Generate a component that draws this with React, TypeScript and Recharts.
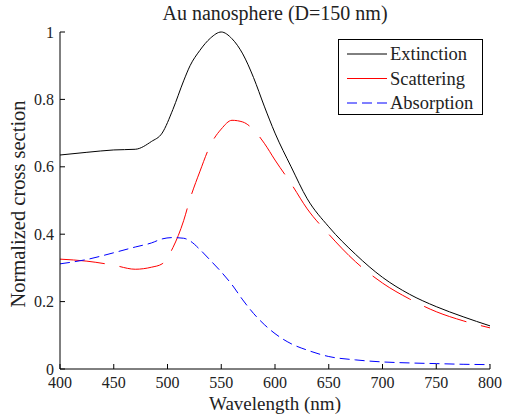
import React from 'react';
import { LineChart, Line, XAxis, YAxis } from 'recharts';

const wavelengths = [400, 425, 450, 470, 485, 495, 505, 515, 521, 530, 540, 550, 560, 570, 580, 590, 600, 615, 630, 650, 675, 700, 725, 750, 775, 800];
const extinction = [0.635, 0.643, 0.65, 0.652, 0.675, 0.7, 0.77, 0.855, 0.9, 0.945, 0.982, 1.0, 0.98, 0.935, 0.865, 0.78, 0.7, 0.6, 0.505, 0.422, 0.34, 0.272, 0.222, 0.185, 0.155, 0.128];
const scattering = [0.326, 0.32, 0.308, 0.296, 0.302, 0.312, 0.36, 0.44, 0.505, 0.585, 0.665, 0.712, 0.738, 0.733, 0.71, 0.67, 0.62, 0.55, 0.475, 0.4, 0.318, 0.255, 0.208, 0.17, 0.143, 0.122];
const absorption = [0.312, 0.325, 0.345, 0.362, 0.374, 0.386, 0.39, 0.388, 0.38, 0.355, 0.322, 0.288, 0.25, 0.205, 0.165, 0.132, 0.105, 0.075, 0.056, 0.037, 0.027, 0.021, 0.018, 0.016, 0.014, 0.013];

const xTicks = [400, 450, 500, 550, 600, 650, 700, 750, 800];
const yTicks = [0, 0.2, 0.4, 0.6, 0.8, 1];
const yTickLabels = ['0', '0.2', '0.4', '0.6', '0.8', '1'];
const seriesNames = ['Extinction', 'Scattering', 'Absorption'];
const titleText = 'Au nanosphere (D=150 nm)';
const xLabel = 'Wavelength (nm)';
const yLabel = 'Normalized cross section';

const data = wavelengths.map((w, i) => ({
  w,
  ext: extinction[i],
  sca: scattering[i],
  abs: absorption[i],
}));

const FONT = "'Liberation Serif', 'DejaVu Serif', 'Times New Roman', serif";
const TEXT = '#222';
const fontStyle = { fontFamily: FONT };

const BottomTick = (props: any) => {
  const { x, y, payload } = props;
  return (
    <g>
      <line x1={x} y1={y} x2={x} y2={y - 5} stroke="#000" />
      <text x={x} y={y + 19} textAnchor="middle" fontSize={16} style={fontStyle} fill={TEXT}>
        {payload.value}
      </text>
    </g>
  );
};

const TopTick = (props: any) => {
  const { x, y } = props;
  return <line x1={x} y1={y} x2={x} y2={y + 5} stroke="#000" />;
};

const LeftTick = (props: any) => {
  const { x, y, payload } = props;
  const idx = yTicks.indexOf(payload.value);
  return (
    <g>
      <line x1={x} y1={y} x2={x + 5} y2={y} stroke="#000" />
      <text x={x - 6} y={y} dy="0.35em" textAnchor="end" fontSize={16} style={fontStyle} fill={TEXT}>
        {idx >= 0 ? yTickLabels[idx] : payload.value}
      </text>
    </g>
  );
};

const RightTick = (props: any) => {
  const { x, y } = props;
  return <line x1={x} y1={y} x2={x - 5} y2={y} stroke="#000" />;
};

const legendItems = [
  { name: seriesNames[0], color: '#000000', dash: undefined as string | undefined },
  { name: seriesNames[1], color: '#ff0000', dash: undefined as string | undefined },
  { name: seriesNames[2], color: '#0000ff', dash: '10 5' },
];

export default function App() {
  return (
    <div style={{ position: 'absolute', left: 0, top: 0, width: 505, height: 419, background: '#fff', fontFamily: FONT }}>
      <LineChart width={505} height={419} data={data} margin={{ top: 32, right: 15, bottom: 0, left: 0 }}>
        <XAxis
          xAxisId="bottom"
          dataKey="w"
          type="number"
          domain={[400, 800]}
          ticks={xTicks}
          height={50}
          tickSize={0}
          tickMargin={0}
          tickLine={false}
          tick={BottomTick}
          axisLine={{ stroke: '#000' }}
          interval={0}
        />
        <XAxis
          xAxisId="top"
          orientation="top"
          dataKey="w"
          type="number"
          domain={[400, 800]}
          ticks={xTicks}
          height={0}
          tickSize={0}
          tickMargin={0}
          tickLine={false}
          tick={TopTick}
          axisLine={{ stroke: '#000' }}
          interval={0}
        />
        <YAxis
          yAxisId="left"
          type="number"
          domain={[0, 1]}
          ticks={yTicks}
          width={60}
          tickSize={0}
          tickMargin={0}
          tickLine={false}
          tick={LeftTick}
          axisLine={{ stroke: '#000' }}
          interval={0}
        />
        <YAxis
          yAxisId="right"
          orientation="right"
          type="number"
          domain={[0, 1]}
          ticks={yTicks}
          width={0}
          tickSize={0}
          tickMargin={0}
          tickLine={false}
          tick={RightTick}
          axisLine={{ stroke: '#000' }}
          interval={0}
        />
        <Line
          xAxisId="bottom"
          yAxisId="left"
          type="monotone"
          dataKey="ext"
          name={seriesNames[0]}
          stroke="#000000"
          strokeWidth={1}
          dot={false}
          isAnimationActive={false}
        />
        <Line
          xAxisId="bottom"
          yAxisId="left"
          type="monotone"
          dataKey="sca"
          name={seriesNames[1]}
          stroke="#ff0000"
          strokeWidth={1}
          strokeDasharray="45 15"
          dot={false}
          isAnimationActive={false}
        />
        <Line
          xAxisId="bottom"
          yAxisId="left"
          type="monotone"
          dataKey="abs"
          name={seriesNames[2]}
          stroke="#0000ff"
          strokeWidth={1}
          strokeDasharray="10 5"
          dot={false}
          isAnimationActive={false}
        />
        <text x={275} y={20} textAnchor="middle" fontSize={20} style={fontStyle} fill={TEXT}>
          {titleText}
        </text>
        <text x={275} y={410} textAnchor="middle" fontSize={19} style={fontStyle} fill={TEXT}>
          {xLabel}
        </text>
        <text
          x={25}
          y={204}
          transform="rotate(-90 25 204)"
          textAnchor="middle"
          fontSize={20.5}
          style={fontStyle}
          fill={TEXT}
        >
          {yLabel}
        </text>
      </LineChart>
      <svg
        width={146}
        height={77}
        style={{ position: 'absolute', left: 338, top: 39, overflow: 'visible' }}
      >
        <rect x={0.5} y={0.5} width={144} height={75} fill="#fff" stroke="#000" strokeWidth={1} />
        {legendItems.map((item, i) => {
          const cy = 15 + i * 24.5;
          return (
            <g key={item.name}>
              <line x1={9} y1={cy} x2={49} y2={cy} stroke={item.color} strokeWidth={1} strokeDasharray={item.dash} />
              <text x={52} y={cy} dy="0.35em" fontSize={18.5} style={fontStyle} fill={TEXT}>
                {item.name}
              </text>
            </g>
          );
        })}
      </svg>
    </div>
  );
}
